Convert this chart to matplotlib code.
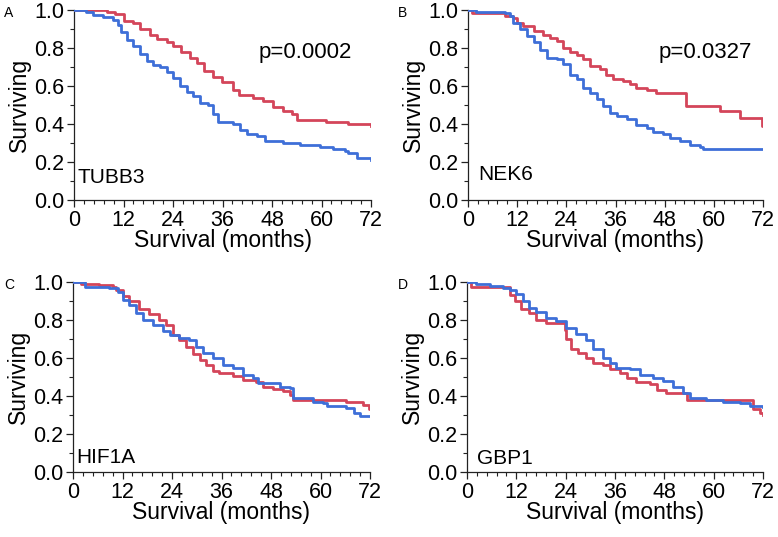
import numpy as np
import matplotlib
matplotlib.use("Agg")
import matplotlib.pyplot as plt
from matplotlib.ticker import MultipleLocator

plt.rcParams["font.family"] = ["Liberation Sans", "DejaVu Sans"]

RED = "#d4455a"
BLUE = "#3e6fd8"

# --- Kaplan-Meier curves (months, surviving fraction) ---
# A: TUBB3
a_red_t = [0, 8, 10, 12, 14.4, 16, 18.4, 20, 22.5, 24, 26, 28, 29.7, 31.4, 33.8, 35.8,
           38.6, 40, 43.5, 45.9, 48.3, 50.7, 52.8, 54, 61, 66.5, 72]
a_red_s = [1.0, 0.99, 0.98, 0.94, 0.93, 0.90, 0.87, 0.85, 0.83, 0.81, 0.78, 0.75, 0.72,
           0.68, 0.65, 0.62, 0.58, 0.55, 0.535, 0.52, 0.49, 0.47, 0.455, 0.42, 0.41,
           0.40, 0.39]
a_blue_t = [0, 3, 4.7, 7, 9.5, 10.7, 11.5, 12.8, 14.4, 16, 17.6, 19.2, 20.8, 22.5, 24,
            25.7, 27.3, 28.9, 30.5, 32.6, 33.8, 35, 38.6, 40.2, 41.9, 44.3, 46.3, 50.7,
            54.8, 59.6, 62.9, 65.7, 66.5, 68.5, 72]
a_blue_s = [1.0, 0.99, 0.975, 0.965, 0.95, 0.92, 0.885, 0.84, 0.81, 0.77, 0.73, 0.71,
            0.70, 0.675, 0.64, 0.60, 0.57, 0.545, 0.51, 0.50, 0.455, 0.41, 0.40, 0.37,
            0.35, 0.335, 0.31, 0.30, 0.29, 0.28, 0.27, 0.26, 0.245, 0.22, 0.21]

# B: NEK6
b_red_t = [0, 1, 9, 11, 11.9, 13.5, 16, 18.4, 20, 21.6, 23.2, 24.9, 26.5, 28.1, 29.8,
           32.2, 33.8, 35.4, 37.9, 39.5, 41.1, 43.6, 46, 53.3, 61.5, 66.4, 71.8, 72]
b_red_s = [1.0, 0.985, 0.97, 0.96, 0.93, 0.915, 0.89, 0.87, 0.855, 0.835, 0.80, 0.78,
           0.765, 0.74, 0.705, 0.69, 0.66, 0.635, 0.625, 0.61, 0.59, 0.58, 0.565, 0.495,
           0.47, 0.43, 0.39, 0.39]
b_blue_t = [0, 2, 9, 10.2, 11, 12.7, 14.3, 16, 17.6, 19.2, 21.6, 23.2, 24.9, 26.5, 28.1,
            29.8, 31.4, 33, 34.6, 36.3, 38.7, 41.1, 43.6, 45.2, 47.6, 49.3, 51.7, 54.1,
            56.6, 57.4, 72]
b_blue_s = [1.0, 0.99, 0.985, 0.97, 0.93, 0.90, 0.865, 0.83, 0.79, 0.75, 0.74, 0.715,
            0.66, 0.635, 0.59, 0.565, 0.53, 0.495, 0.46, 0.44, 0.425, 0.395, 0.38, 0.36,
            0.345, 0.325, 0.31, 0.29, 0.28, 0.27, 0.27]

# C: HIF1A
c_red_t = [0, 2, 6.3, 9.6, 10.4, 12, 13.6, 16, 18.5, 20.9, 22.5, 24.2, 25.8, 27.4, 29,
           30.7, 32.3, 33.9, 35.5, 38.8, 41.2, 44.4, 46.1, 48.5, 50.9, 52.6, 53.4, 63,
           66.3, 70.4, 71.8, 72]
c_red_s = [1.0, 0.99, 0.985, 0.975, 0.96, 0.925, 0.90, 0.86, 0.83, 0.80, 0.775, 0.72,
           0.695, 0.66, 0.62, 0.59, 0.565, 0.53, 0.52, 0.505, 0.485, 0.475, 0.45, 0.435,
           0.425, 0.405, 0.38, 0.38, 0.37, 0.355, 0.33, 0.33]
c_blue_t = [0, 3, 8.8, 10.8, 12, 13.6, 15.2, 16.9, 19.3, 21.7, 23.4, 25.8, 28.2, 29.8,
            31.5, 33.9, 36.3, 38.8, 41.2, 43.6, 44.8, 50.1, 52.6, 53.4, 58.2, 60.7, 61.5,
            66.3, 68, 69.6, 72]
c_blue_s = [1.0, 0.975, 0.97, 0.95, 0.905, 0.88, 0.835, 0.80, 0.775, 0.74, 0.72, 0.705,
            0.695, 0.66, 0.625, 0.60, 0.565, 0.545, 0.51, 0.495, 0.47, 0.45, 0.44, 0.39,
            0.37, 0.365, 0.345, 0.335, 0.31, 0.295, 0.295]

# D: GBP1
d_red_t = [0, 1, 10.4, 11.6, 13.2, 15.2, 16.9, 19.3, 23.8, 24.2, 25.4, 27, 29, 30.6,
           33.1, 34.7, 37.1, 38.8, 41.2, 44.4, 46.1, 48.5, 53.4, 69.6, 71.2, 72]
d_red_s = [1.0, 0.975, 0.93, 0.90, 0.86, 0.835, 0.80, 0.785, 0.75, 0.70, 0.65, 0.625,
           0.60, 0.575, 0.565, 0.54, 0.52, 0.495, 0.475, 0.465, 0.43, 0.415, 0.38, 0.33,
           0.31, 0.30]
d_blue_t = [0, 2.3, 5.5, 8.8, 10.4, 12, 13.6, 15.2, 16.9, 19.3, 21.7, 24.2, 26.6, 29,
            30.6, 33.1, 34.7, 36.3, 39.6, 42, 45.3, 47.7, 50.1, 52.5, 54.2, 58.2, 62.3,
            66.3, 68.8, 72]
d_blue_s = [1.0, 0.99, 0.98, 0.97, 0.96, 0.935, 0.90, 0.865, 0.84, 0.81, 0.795, 0.76,
            0.725, 0.695, 0.65, 0.60, 0.575, 0.55, 0.54, 0.51, 0.495, 0.48, 0.45, 0.415,
            0.39, 0.38, 0.37, 0.365, 0.345, 0.34]

letters = ["A", "B", "C", "D"]
genes = ["TUBB3", "NEK6", "HIF1A", "GBP1"]
pvals = ["p=0.0002", "p=0.0327", None, None]
pval_x = [56, 58, None, None]
gene_y = [0.09, 0.105, 0.045, 0.04]
curves = [(a_red_t, a_red_s, a_blue_t, a_blue_s),
          (b_red_t, b_red_s, b_blue_t, b_blue_s),
          (c_red_t, c_red_s, c_blue_t, c_blue_s),
          (d_red_t, d_red_s, d_blue_t, d_blue_s)]

W, H = 778, 537
# axes boxes in pixels: left, top, right, bottom
boxes = [(74, 10, 371, 200), (468, 10, 763, 200),
         (73, 282, 370, 472), (467, 282, 763, 472)]
letter_pos = [(4, 13), (398, 13), (4, 285), (398, 285)]

fig = plt.figure(figsize=(W / 100, H / 100), dpi=100)
for i in range(4):
    l, t, r, b = boxes[i]
    ax = fig.add_axes([l / W, 1 - b / H, (r - l) / W, (b - t) / H])
    rt, rs, bt, bs = curves[i]
    ax.step(rt, rs, where="post", color=RED, lw=2.0, zorder=3)
    ax.step(bt, bs, where="post", color=BLUE, lw=2.0, zorder=3)
    ax.set_xlim(0, 72); ax.set_ylim(0, 1.0)
    ax.set_xticks(range(0, 73, 12))
    ax.set_yticks(np.arange(0, 1.01, 0.2))
    ax.set_yticklabels([f"{v:.1f}" for v in np.arange(0, 1.01, 0.2)])
    ax.xaxis.set_minor_locator(MultipleLocator(2.4))
    ax.yaxis.set_minor_locator(MultipleLocator(0.1))
    for s in ["top", "right"]:
        ax.spines[s].set_visible(False)
    for s in ["left", "bottom"]:
        ax.spines[s].set_linewidth(0.9)
        ax.spines[s].set_color("#222222")
    ax.tick_params(which="major", length=5, width=0.9, labelsize=15.5, pad=2, colors="#222222")
    ax.tick_params(which="minor", length=3, width=0.8, colors="#222222")
    ax.tick_params(labelcolor="black")
    ax.set_xlabel("Survival (months)", fontsize=16.5, labelpad=-1)
    ax.set_ylabel("Surviving", fontsize=16.5, labelpad=2)
    ax.text(0.8 if i % 2 == 0 else 2.4, gene_y[i], genes[i], fontsize=15, ha="left", va="baseline")
    if pvals[i]:
        ax.text(pval_x[i], 0.775, pvals[i], fontsize=16, ha="center", va="center")
    fig.text(letter_pos[i][0] / W, 1 - letter_pos[i][1] / H, letters[i], fontsize=10,
             ha="left", va="center")

fig.savefig("out.png", dpi=100)
